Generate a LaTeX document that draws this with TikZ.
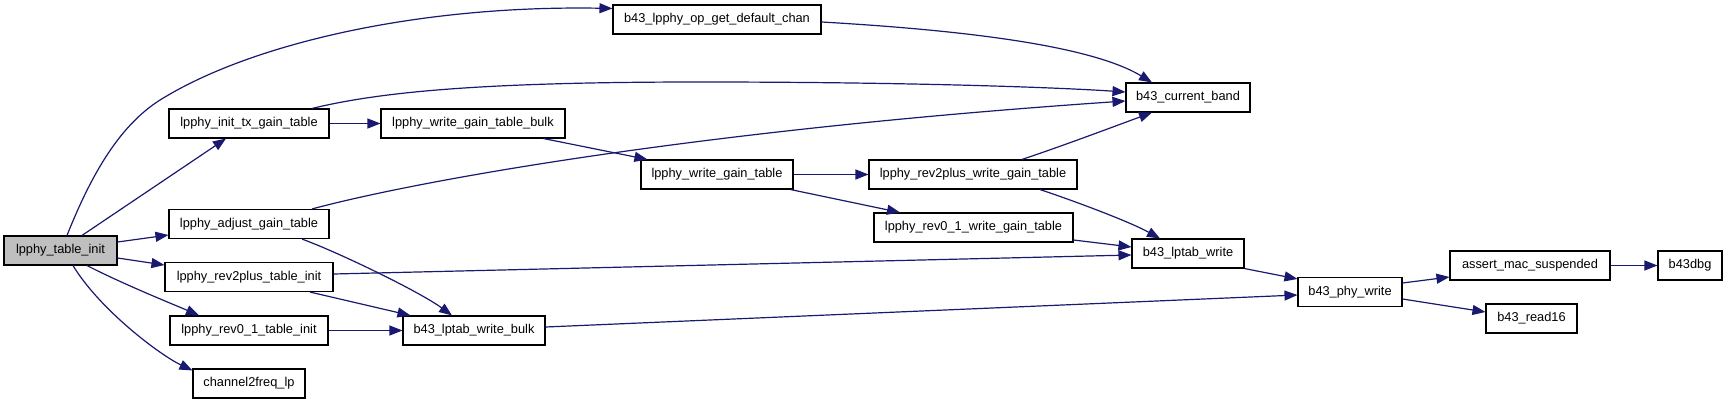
\documentclass[tikz,border=0pt]{standalone}
\usepackage{fontspec}
\setmainfont{Liberation Sans}
\usetikzlibrary{arrows.meta}
\definecolor{edgeblue}{RGB}{25,25,112}
\definecolor{rootgray}{RGB}{191,191,191}
\begin{document}
\begin{tikzpicture}[x=1pt,y=-1pt,
  fnbox/.style={draw=black, line width=1.1pt, fill=white, inner sep=0pt,
    minimum height=29pt, font=\fontsize{12.8}{15}\selectfont},
  call/.style={draw=edgeblue, line width=1.2pt, -{Triangle[length=13pt,width=10pt]}}]
\useasboundingbox[fill=white] (0,0) rectangle (1728,404);

\node[fnbox, fill=rootgray, minimum width=113pt] (A) at (60.5,250.5) {lpphy\_table\_init};
\node[fnbox, minimum width=208pt] (B) at (717,19.5) {b43\_lpphy\_op\_get\_default\_chan};
\node[fnbox, minimum width=160pt] (C) at (249,123.5) {lpphy\_init\_tx\_gain\_table};
\node[fnbox, minimum width=184pt] (D) at (473,123.5) {lpphy\_write\_gain\_table\_bulk};
\node[fnbox, minimum width=124pt] (E) at (1188,97.5) {b43\_current\_band};
\node[fnbox, minimum width=160pt] (F) at (249,224) {lpphy\_adjust\_gain\_table};
\node[fnbox, minimum width=152pt] (G) at (717,174.5) {lpphy\_write\_gain\_table};
\node[fnbox, minimum width=208pt] (H) at (973,174.5) {lpphy\_rev2plus\_write\_gain\_table};
\node[fnbox, minimum width=199pt] (I) at (973.5,227.5) {lpphy\_rev0\_1\_write\_gain\_table};
\node[fnbox, minimum width=112pt] (J) at (1188,253.5) {b43\_lptab\_write};
\node[fnbox, minimum width=168pt] (K) at (249,277) {lpphy\_rev2plus\_table\_init};
\node[fnbox, minimum width=158pt] (L) at (249,330.5) {lpphy\_rev0\_1\_table\_init};
\node[fnbox, minimum width=142pt] (M) at (474,330.5) {b43\_lptab\_write\_bulk};
\node[fnbox, minimum width=112pt] (N) at (249,383.5) {channel2freq\_lp};
\node[fnbox, minimum width=104pt] (O) at (1350,292) {b43\_phy\_write};
\node[fnbox, minimum width=160pt] (P) at (1530,265.5) {assert\_mac\_suspended};
\node[fnbox, minimum width=64pt] (Q) at (1690,265.5) {b43dbg};
\node[fnbox, minimum width=91pt] (R) at (1531.5,318.5) {b43\_read16};

% edges from lpphy_table_init
\draw[call] ([xshift=6.5pt]A.north) .. controls (95,165) and (125,120) .. (165,97)
  .. controls (255,43) and (420,5) .. ([yshift=-4pt]B.north west);
\draw[call] ([xshift=21.5pt]A.north) -- ([xshift=-23pt]C.south);
\draw[call] ([yshift=8.5pt]A.east) -- ([yshift=-11pt]F.west);
\draw[call] ([yshift=-7.5pt]A.east) -- ([yshift=12pt]K.west);
\draw[call] ([xshift=26.5pt]A.south) .. controls (125,285) and (175,305) .. ([xshift=-50pt]L.north);
\draw[call] ([xshift=12.5pt]A.south) .. controls (100,310) and (160,355) .. ([yshift=-2pt]N.north west);

% second level
\draw[call] ([yshift=-2.5pt]B.east) .. controls (960,30) and (1090,45) .. ([xshift=-36pt]E.north);
\draw[call] (C.east) -- (D.west);
\draw[call] ([xshift=63pt]C.north) .. controls (380,92) and (480,82) .. (700,82)
  .. controls (900,82) and (1050,87) .. ([yshift=5.5pt]E.west);
\draw[call] ([xshift=-22pt]D.south east) -- ([xshift=7pt]G.north west);
\draw[call] ([xshift=63pt]F.north) .. controls (420,180) and (700,130) .. ([yshift=-3.5pt]E.west);
\draw[call] ([xshift=53pt]F.south) .. controls (340,253) and (420,292) .. ([xshift=-22pt]M.north);
\draw[call] (G.east) -- (H.west);
\draw[call] ([xshift=-3pt]G.south east) -- ([xshift=-73.5pt]I.north);
\draw[call] ([xshift=49pt]H.north) .. controls (1065,145) and (1110,128) .. ([xshift=-36pt]E.south);
\draw[call] ([xshift=67pt]H.south) .. controls (1080,203) and (1130,222) .. ([xshift=-28pt]J.north);
\draw[call] ([yshift=-12.5pt]I.east) -- ([yshift=6.5pt]J.west);
\draw[call] ([yshift=3pt]K.east) -- ([yshift=-1.5pt]J.west);
\draw[call] ([xshift=61pt]K.south) -- ([xshift=8pt]M.north west);
\draw[call] (L.east) -- (M.west);
\draw[call] ([yshift=3.5pt]M.east) -- ([yshift=-3pt]O.west);
\draw[call] (J.south east) -- ([yshift=-2pt]O.north west);
\draw[call] ([yshift=9pt]O.east) -- ([yshift=-11.5pt]P.west);
\draw[call] ([yshift=-7pt]O.east) -- ([yshift=6.5pt]R.west);
\draw[call] (P.east) -- (Q.west);
\end{tikzpicture}
\end{document}
